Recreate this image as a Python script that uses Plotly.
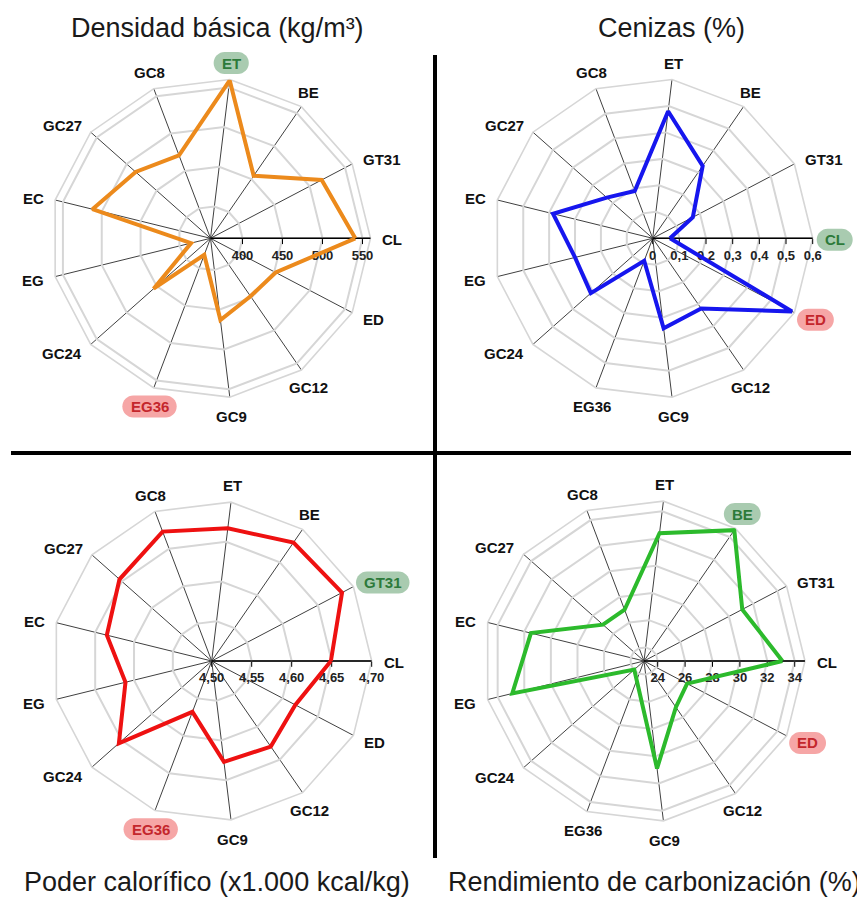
import math
import plotly.graph_objects as go

# the page body has an 8px margin: figure is sized to fit and positions are offset
OFF = 8
W, H = 865 - OFF, 901 - OFF

categories = ["CL", "GT31", "BE", "ET", "GC8", "GC27", "EC", "EG", "GC24", "EG36", "GC9", "GC12", "ED"]

densidad = [541, 517, 455, 559, 471, 485, 512, 385, 455, 382, 463, 448, 452]
cenizas = [0.065, 0.17, 0.33, 0.48, 0.19, 0.23, 0.385, 0.30, 0.31, 0.09, 0.34, 0.32, 0.59]
poder = [4.649, 4.684, 4.680, 4.667, 4.673, 4.654, 4.635, 4.611, 4.655, 4.568, 4.627, 4.630, 4.618]
rendimiento = [33.1, 31.1, 34.6, 32.4, 27.0, 27.0, 31.5, 32.9, 23.95, 24.5, 30.9, 27.1, 26.55]

dens_ticks = [400, 450, 500, 550]
dens_text = ["400", "450", "500", "550"]
cen_ticks = [0, 0.1, 0.2, 0.3, 0.4, 0.5, 0.6]
cen_text = ["0", "0,1", "0,2", "0,3", "0,4", "0,5", "0,6"]
pod_ticks = [4.50, 4.55, 4.60, 4.65, 4.70]
pod_text = ["4,50", "4,55", "4,60", "4,65", "4,70"]
ren_ticks = [24, 26, 28, 30, 32, 34]
ren_text = ["24", "26", "28", "30", "32", "34"]

titles = ["Densidad básica (kg/m³)", "Cenizas (%)",
          "Poder calorífico (x1.000 kcal/kg)", "Rendimiento de carbonización (%)"]

# highlighted labels: (best, worst)
highlights = [("ET", "EG36"), ("CL", "ED"), ("GT31", "EG36"), ("BE", "ED")]

panels = [
    dict(vals=densidad, rng=[360, 560], tv=dens_ticks, tt=dens_text, color="#ec8a1c", c=(210.5, 238.3), R=160),
    dict(vals=cenizas, rng=[0, 0.6], tv=cen_ticks, tt=cen_text, color="#1616ee", c=(652.7, 238.3), R=160),
    dict(vals=poder, rng=[4.5, 4.7], tv=pod_ticks, tt=pod_text, color="#ee1111", c=(211.7, 661.0), R=160),
    dict(vals=rendimiento, rng=[23, 34.75], tv=ren_ticks, tt=ren_text, color="#2cba2c", c=(644.0, 661.0), R=161),
]
title_pos = [(217, 28), (671, 28), (217, 882), (654, 882)]

FONT = "Liberation Sans, Arial, sans-serif"
CW = {"G": 0.778, "C": 0.722, "E": 0.667, "T": 0.611, "L": 0.611, "B": 0.722, "D": 0.722}


def text_w(s, size):
    return sum(CW.get(ch, 0.556) for ch in s) * size


def px2paper(X, Y):
    return (X - OFF) / W, 1 - (Y - OFF) / H


fig = go.Figure()
layout = dict(width=W, height=H, margin=dict(l=0, r=0, t=0, b=0),
              paper_bgcolor="white", plot_bgcolor="white", showlegend=False)
annotations = []
shapes = []

for i, p in enumerate(panels):
    key = "polar" if i == 0 else f"polar{i+1}"
    cx, cy = p["c"]
    R = p["R"]
    fig.add_trace(go.Scatterpolar(
        r=p["vals"] + [p["vals"][0]],
        theta=categories + [categories[0]],
        mode="lines",
        line=dict(color=p["color"], width=4),
        subplot=key,
        hoverinfo="skip",
    ))
    x0, y1 = px2paper(cx - R, cy - R)
    x1, y0 = px2paper(cx + R, cy + R)
    layout[key] = dict(
        domain=dict(x=[x0, x1], y=[y0, y1]),
        bgcolor="rgba(0,0,0,0)",
        gridshape="linear",
        angularaxis=dict(type="category", categoryarray=categories, rotation=0,
                         direction="counterclockwise", showticklabels=False, ticks="",
                         showgrid=True, gridcolor="#404040", gridwidth=0.8,
                         showline=True, linecolor="#d6d6d6", linewidth=1.6,
                         layer="below traces"),
        radialaxis=dict(range=p["rng"], tickvals=p["tv"], ticktext=p["tt"], angle=0,
                        showline=True, linecolor="black", linewidth=1.6,
                        ticks="outside", ticklen=5, tickcolor="black", tickwidth=1.2,
                        gridcolor="#d6d6d6", gridwidth=1.5,
                        tickfont=dict(size=13, family=FONT, color="#222", weight="bold"),
                        layer="below traces"),
    )
    best, worst = highlights[i]
    n = len(categories)
    for k, cat in enumerate(categories):
        th = 2 * math.pi * k / n
        c, s = math.cos(th), math.sin(th)
        fs = 15
        w = text_w(cat, fs)
        g = 12
        ex, ey = cx + R * c, cy - R * s
        axp, ayp = ex + g * c, ey - g * s
        if abs(c) > 0.6:
            X = axp + math.copysign(w / 2, c)
            Y = ayp + 1.5
        else:
            X = axp
            Y = ayp - math.copysign(6, s) + 1.5
        ax, ay = px2paper(X, Y)
        col = "#111"
        if cat == best or cat == worst:
            bg = "#a9cbb0" if cat == best else "#f6a6a6"
            col = "#2d7a3a" if cat == best else "#c4262c"
            a = w / 2 + 8
            b = 11
            k_ = 0.5523 * b
            path = (f"M {-a + b},{-b} L {a - b},{-b} C {a - b + k_},{-b} {a},{-k_} {a},0 "
                    f"C {a},{k_} {a - b + k_},{b} {a - b},{b} L {-a + b},{b} "
                    f"C {-a + b - k_},{b} {-a},{k_} {-a},0 C {-a},{-k_} {-a + b - k_},{-b} {-a + b},{-b} Z")
            shapes.append(dict(type="path", xref="paper", yref="paper", xsizemode="pixel", ysizemode="pixel",
                               xanchor=ax, yanchor=ay, path=path,
                               fillcolor=bg, line=dict(width=0), layer="below"))
        annotations.append(dict(x=ax, y=ay, xref="paper", yref="paper",
                                text=cat, showarrow=False, xanchor="center", yanchor="middle",
                                font=dict(size=fs, family=FONT, color=col, weight="bold")))
    tx, ty = px2paper(*title_pos[i])
    annotations.append(dict(x=tx, y=ty, xref="paper", yref="paper", text=titles[i],
                            showarrow=False, xanchor="center", yanchor="middle",
                            font=dict(size=27, family=FONT, color="#1a1a1a")))

# divider lines
vx, vy0 = px2paper(435, 55)
_, vy1 = px2paper(435, 858)
hx0, hy = px2paper(11, 453)
hx1, _ = px2paper(851, 453)
shapes.append(dict(type="line", xref="paper", yref="paper", x0=vx, x1=vx,
                   y0=vy0, y1=vy1, line=dict(color="black", width=4)))
shapes.append(dict(type="line", xref="paper", yref="paper", x0=hx0, x1=hx1,
                   y0=hy, y1=hy, line=dict(color="black", width=4)))

layout["annotations"] = annotations
layout["shapes"] = shapes
fig.update_layout(**layout)
fig.write_html("out.html")
